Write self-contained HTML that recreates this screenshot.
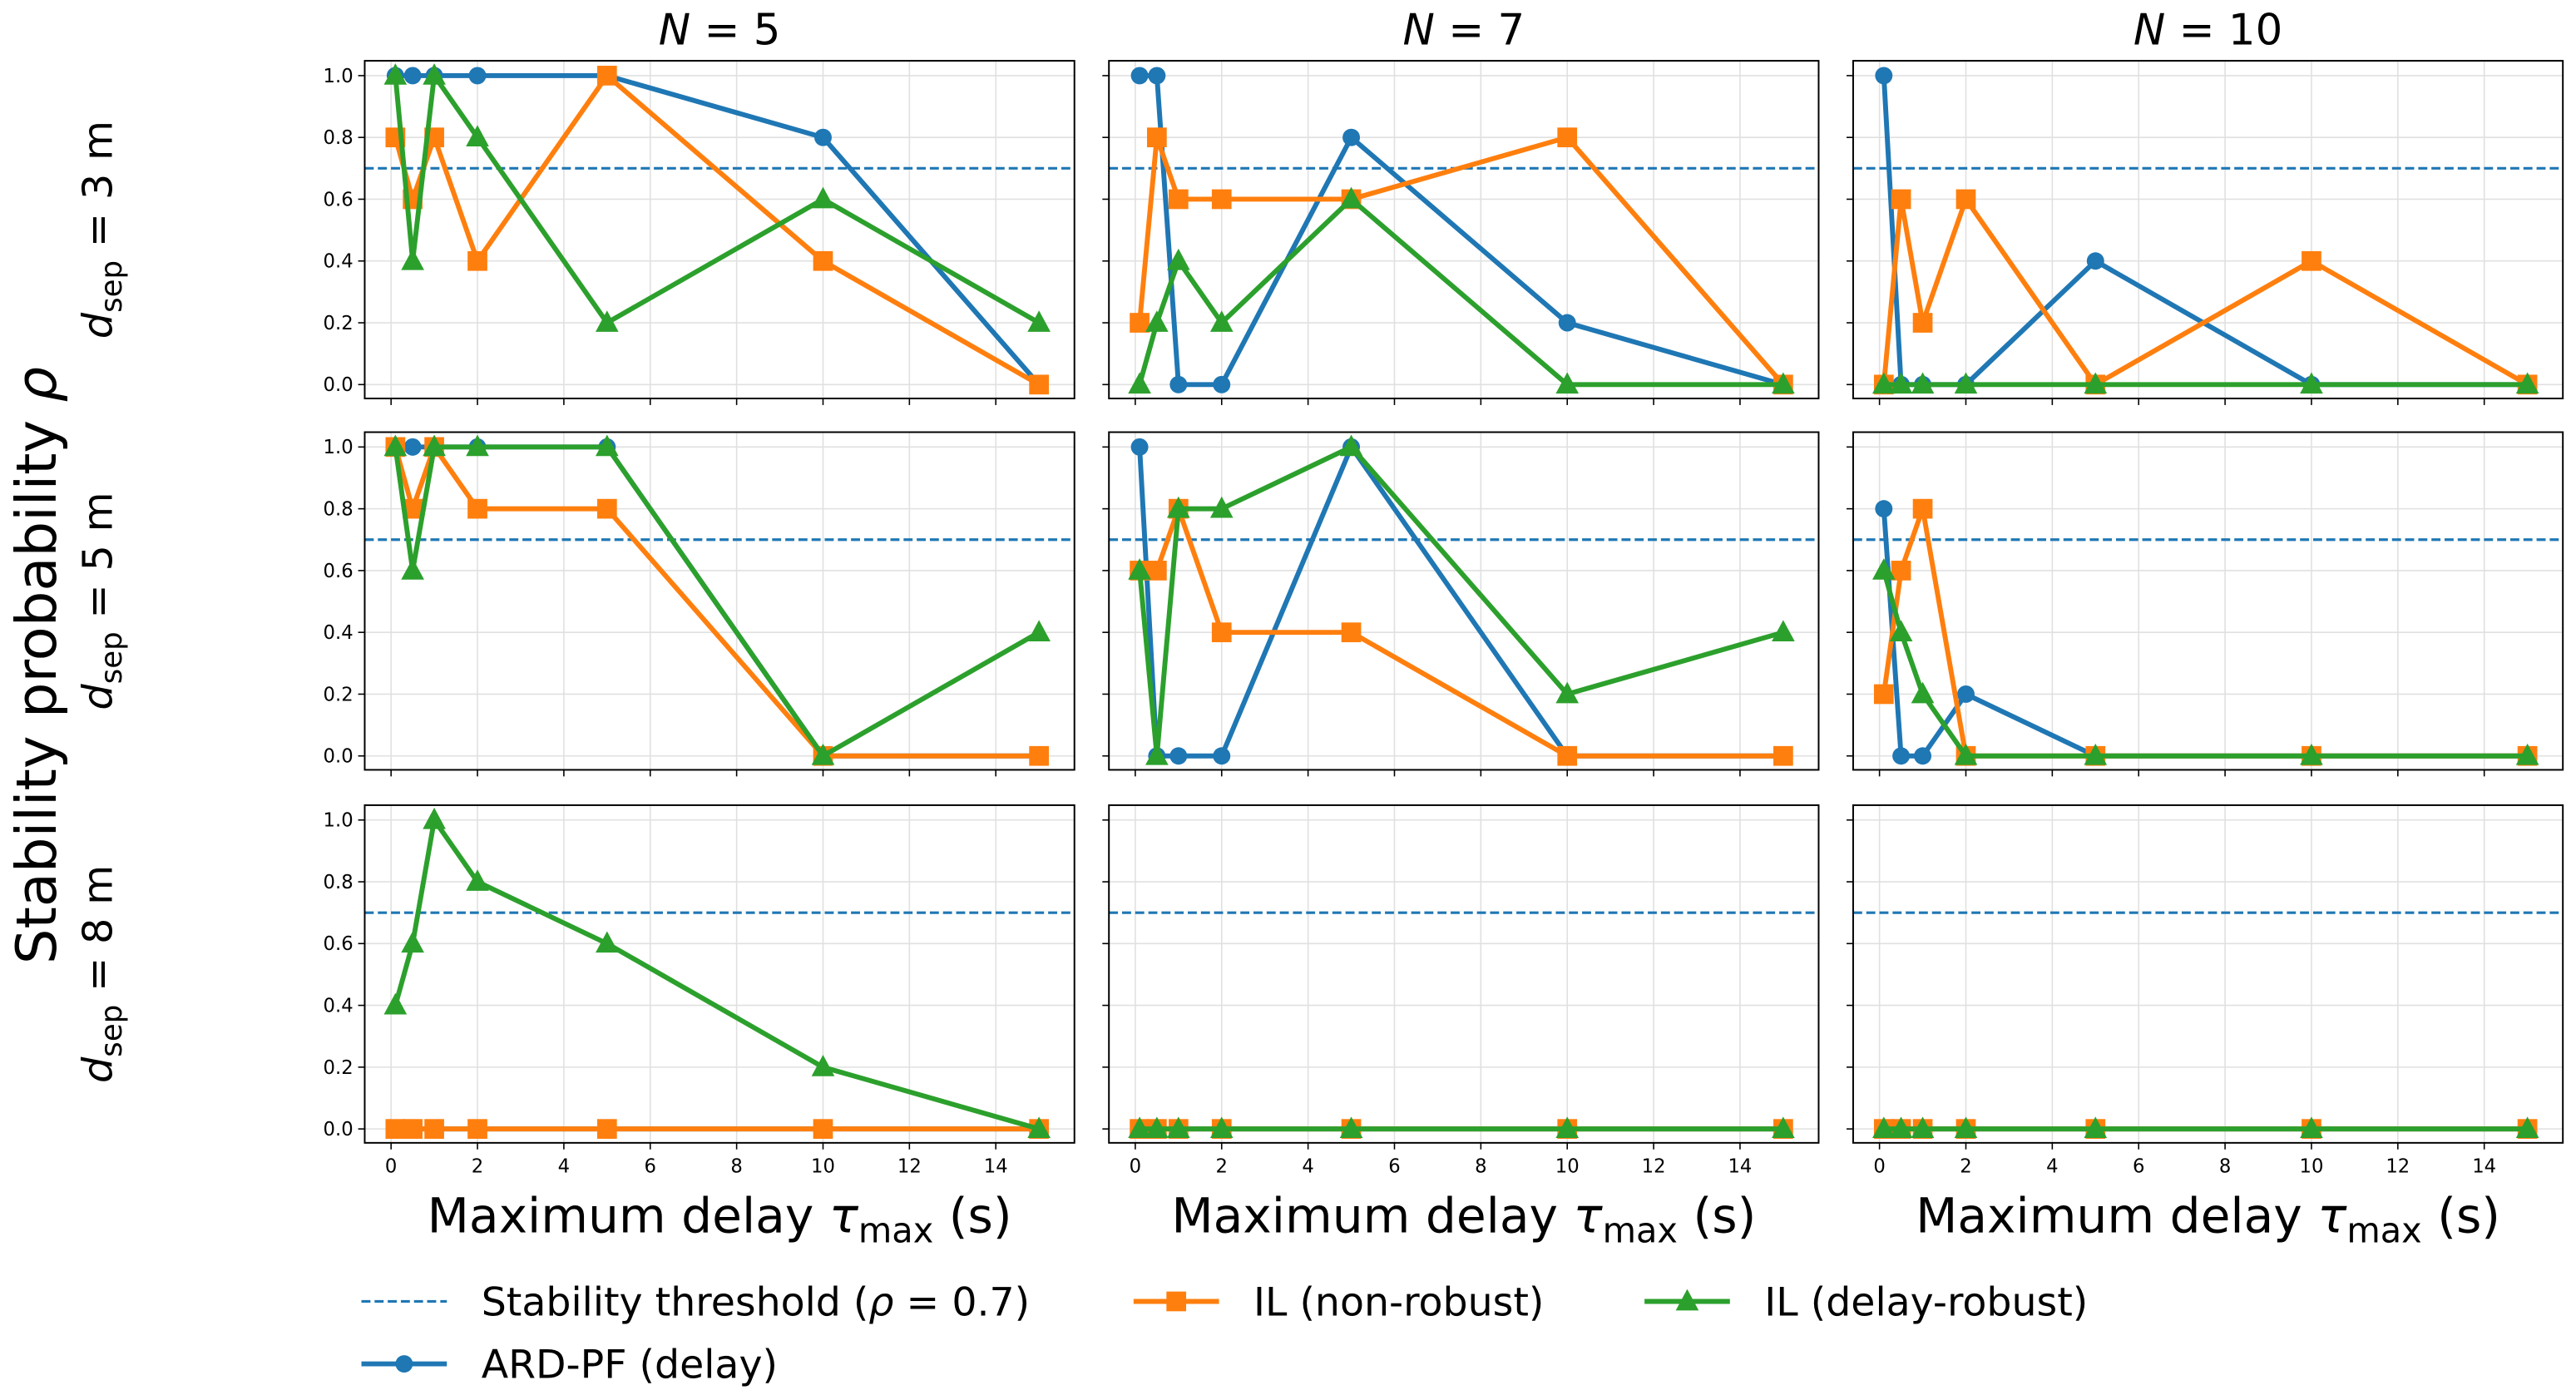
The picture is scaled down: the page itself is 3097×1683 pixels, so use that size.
<!DOCTYPE html>
<html><head><meta charset="utf-8"><style>
html,body{margin:0;padding:0;background:#fff;}
svg{display:block;font-family:"DejaVu Sans","Liberation Sans",sans-serif;}
</style></head><body>
<svg id="chart" width="3097" height="1683" viewBox="0 0 1568 852" preserveAspectRatio="none" xmlns="http://www.w3.org/2000/svg"></svg>
<script>
const xVals = [0.1, 0.5, 1, 2, 5, 10, 15];
const xTicks = [0, 2, 4, 6, 8, 10, 12, 14];
const yTicks = [0.0, 0.2, 0.4, 0.6, 0.8, 1.0];
const threshold = 0.7;
const colTitles = ["5", "7", "10"];
const rowTitles = ["3", "5", "8"];
// ARD-PF (delay)
const ard_3_5 = [1,1,1,1,1,0.8,0];
const ard_3_7 = [1,1,0,0,0.8,0.2,0];
const ard_3_10 = [1,0,0,0,0.4,0,0];
const ard_5_5 = [1,1,1,1,1,0,0];
const ard_5_7 = [1,0,0,0,1,0,0];
const ard_5_10 = [0.8,0,0,0.2,0,0,0];
const ard_8_5 = [0,0,0,0,0,0,0];
const ard_8_7 = [0,0,0,0,0,0,0];
const ard_8_10 = [0,0,0,0,0,0,0];
// IL (non-robust)
const il_3_5 = [0.8,0.6,0.8,0.4,1,0.4,0];
const il_3_7 = [0.2,0.8,0.6,0.6,0.6,0.8,0];
const il_3_10 = [0,0.6,0.2,0.6,0,0.4,0];
const il_5_5 = [1,0.8,1,0.8,0.8,0,0];
const il_5_7 = [0.6,0.6,0.8,0.4,0.4,0,0];
const il_5_10 = [0.2,0.6,0.8,0,0,0,0];
const il_8_5 = [0,0,0,0,0,0,0];
const il_8_7 = [0,0,0,0,0,0,0];
const il_8_10 = [0,0,0,0,0,0,0];
// IL (delay-robust)
const rob_3_5 = [1,0.4,1,0.8,0.2,0.6,0.2];
const rob_3_7 = [0,0.2,0.4,0.2,0.6,0,0];
const rob_3_10 = [0,0,0,0,0,0,0];
const rob_5_5 = [1,0.6,1,1,1,0,0.4];
const rob_5_7 = [0.6,0,0.8,0.8,1,0.2,0.4];
const rob_5_10 = [0.6,0.4,0.2,0,0,0,0];
const rob_8_5 = [0.4,0.6,1,0.8,0.6,0.2,0];
const rob_8_7 = [0,0,0,0,0,0,0];
const rob_8_10 = [0,0,0,0,0,0,0];

const series = [
 [[ard_3_5,il_3_5,rob_3_5],[ard_3_7,il_3_7,rob_3_7],[ard_3_10,il_3_10,rob_3_10]],
 [[ard_5_5,il_5_5,rob_5_5],[ard_5_7,il_5_7,rob_5_7],[ard_5_10,il_5_10,rob_5_10]],
 [[ard_8_5,il_8_5,rob_8_5],[ard_8_7,il_8_7,rob_8_7],[ard_8_10,il_8_10,rob_8_10]]
];
const colors = ["#1f77b4","#ff7f0e","#2ca02c"];
const markers = ["circle","square","triangle"];
const sNames = ["ard-pf","il-nonrobust","il-robust"];

const svg = document.getElementById('chart');
const NS = "http://www.w3.org/2000/svg";
function mk(tag, attrs, parent){
  const e = document.createElementNS(NS, tag);
  for (const k in attrs) e.setAttribute(k, attrs[k]);
  (parent||svg).appendChild(e);
  return e;
}
const colX = [222, 675, 1128], W = 432;
const rowY = [37, 263, 490], H = 205.5;
const XMIN = -0.61, XMAX = 15.82;
const YMIN = -0.045, YMAX = 1.048;

function marker(g, type, cx, cy, color){
  let m;
  if (type==="circle") m = mk('circle',{cx:cx,cy:cy,r:5.3,fill:color},g);
  else if (type==="square") m = mk('rect',{x:cx-6,y:cy-6,width:12,height:12,fill:color},g);
  else m = mk('polygon',{points:`${cx},${cy-7.5} ${cx-7},${cy+5.5} ${cx+7},${cy+5.5}`,fill:color},g);
  return m;
}

for (let r=0;r<3;r++){
  for (let c=0;c<3;c++){
    const x0=colX[c], y0=rowY[r];
    const sx = v => x0 + (v-XMIN)/(XMAX-XMIN)*W;
    const sy = v => y0 + H - (v-YMIN)/(YMAX-YMIN)*H;
    const g = mk('g',{});
    
    
    xTicks.forEach(t=>{
      const l = mk('line',{x1:sx(t),x2:sx(t),y1:y0,y2:y0+H,stroke:"#e0e0e0","stroke-width":0.8},g);
      
      
      const tk = mk('line',{x1:sx(t),x2:sx(t),y1:y0+H,y2:y0+H+4,stroke:"#000","stroke-width":0.8},g);
      
      
      if (r===2){
        const tl = mk('text',{x:sx(t),y:y0+H+18,"text-anchor":"middle","font-size":11.5},g);
        tl.textContent = t;
        
        
      }
    });
    yTicks.forEach(t=>{
      const l = mk('line',{x1:x0,x2:x0+W,y1:sy(t),y2:sy(t),stroke:"#e0e0e0","stroke-width":0.8},g);
      
      
      const tk = mk('line',{x1:x0-4,x2:x0,y1:sy(t),y2:sy(t),stroke:"#000","stroke-width":0.8},g);
      
      
      if (c===0){
        const tl = mk('text',{x:x0-7,y:sy(t)+4,"text-anchor":"end","font-size":11.5},g);
        tl.textContent = t.toFixed(1);
        
        
      }
    });
    const th = mk('line',{x1:x0,x2:x0+W,y1:sy(threshold),y2:sy(threshold),stroke:"#1f77b4","stroke-width":1.6,"stroke-dasharray":"5.5,2.5"},g);
    
    
    series[r][c].forEach((vals,si)=>{
      const sg = mk('g',{},g);
      
      
      const pts = vals.map((v,i)=>`${sx(xVals[i])},${sy(v)}`).join(' ');
      const pl = mk('polyline',{points:pts,fill:"none",stroke:colors[si],"stroke-width":3,"stroke-linejoin":"round"},sg);
      
      
      vals.forEach((v,i)=>{
        const m = marker(sg, markers[si], sx(xVals[i]), sy(v), colors[si]);
        
        
      });
    });
    const fr = mk('rect',{x:x0,y:y0,width:W,height:H,fill:"none",stroke:"#000","stroke-width":1},g);
    
    
    if (r===0){
      const t = mk('text',{x:x0+W/2,y:27,"text-anchor":"middle","font-size":26},g);
      t.innerHTML = `<tspan font-style="italic">N</tspan> = ${colTitles[c]}`;
      
      
    }
    if (r===2){
      const t = mk('text',{x:x0+W/2,y:750,"text-anchor":"middle","font-size":29.5},g);
      t.innerHTML = `Maximum delay <tspan font-style="italic">τ</tspan><tspan font-size="21" dy="6">max</tspan><tspan dy="-6"> (s)</tspan>`;
      
      
    }
    if (c===0){
      const cy = y0+H/2;
      const t = mk('text',{x:0,y:0,"text-anchor":"middle","font-size":25,transform:`translate(68,${cy}) rotate(-90)`},g);
      t.innerHTML = `<tspan font-style="italic">d</tspan><tspan font-size="18" dy="6">sep</tspan><tspan dy="-6"> = ${rowTitles[r]} m</tspan>`;
      
      
    }
  }
}
const yl = mk('text',{x:0,y:0,"text-anchor":"middle","font-size":34,transform:"translate(34,405) rotate(-90)"});
yl.innerHTML = `Stability probability <tspan font-style="italic">ρ</tspan>`;



const leg = mk('g',{});


const legItems = [
  {x:220,y:792,label:'Stability threshold (<tspan font-style="italic">ρ</tspan> = 0.7)',type:"dash",color:"#1f77b4",name:"legend-threshold"},
  {x:690,y:792,label:"IL (non-robust)",type:"square",color:colors[1],name:"legend-il-nonrobust"},
  {x:1001,y:792,label:"IL (delay-robust)",type:"triangle",color:colors[2],name:"legend-il-robust"},
  {x:220,y:830,label:"ARD-PF (delay)",type:"circle",color:colors[0],name:"legend-ard-pf"}
];
legItems.forEach(it=>{
  const g = mk('g',{},leg);
  
  
  if (it.type==="dash"){
    mk('line',{x1:it.x,x2:it.x+52,y1:it.y,y2:it.y,stroke:it.color,"stroke-width":1.6,"stroke-dasharray":"5.5,2.5"},g);
  } else {
    mk('line',{x1:it.x,x2:it.x+52,y1:it.y,y2:it.y,stroke:it.color,"stroke-width":3},g);
    marker(g,it.type,it.x+26,it.y,it.color);
  }
  const t = mk('text',{x:it.x+73,y:it.y+8.5,"font-size":24},g);
  t.innerHTML = it.label;
});
</script>
</body></html>
